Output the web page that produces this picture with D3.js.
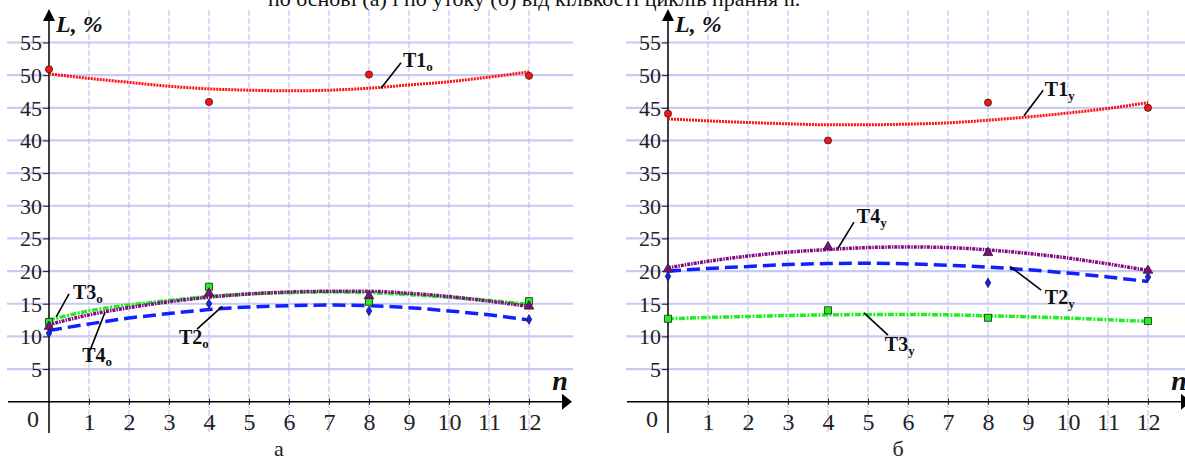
<!DOCTYPE html>
<html>
<head>
<meta charset="utf-8">
<script src="https://cdn.jsdelivr.net/npm/d3@7"></script>
<style>
  body { margin: 0; background: #fff; }
  svg { display: block; }
</style>
</head>
<body>
<svg id="chart" width="1185" height="463" font-family="Liberation Serif"></svg>
<script>
// data
const nCurve = [0, 1, 2, 3, 4, 5, 6, 7, 8, 9, 10, 11, 12];
const nPoints = [0, 4, 8, 12];
const xTicks = [1, 2, 3, 4, 5, 6, 7, 8, 9, 10, 11, 12];
const yTicks = [5, 10, 15, 20, 25, 30, 35, 40, 45, 50, 55];

// panel a (warp)
const t1oCurve = [50.2, 49.5, 48.9, 48.3, 47.9, 47.7, 47.6, 47.7, 48.0, 48.5, 49.0, 49.7, 50.5];
const t2oCurve = [10.9, 11.9, 12.8, 13.5, 14.1, 14.5, 14.7, 14.8, 14.7, 14.4, 13.9, 13.3, 12.5];
const t3oCurve = [12.5, 13.9, 14.8, 15.5, 16.1, 16.5, 16.7, 16.8, 16.7, 16.4, 16.0, 15.5, 14.9];
const t4oCurve = [11.8, 13.3, 14.4, 15.3, 16.0, 16.5, 16.8, 16.9, 16.9, 16.6, 16.1, 15.4, 14.6];
const t1oPoints = [50.9, 45.9, 50.1, 49.9];
const t2oPoints = [10.5, 15.0, 13.9, 12.6];
const t3oPoints = [12.2, 17.6, 15.3, 15.4];
const t4oPoints = [11.5, 16.6, 16.2, 14.6];

// panel б (weft)
const t1yCurve = [43.3, 43.0, 42.75, 42.55, 42.4, 42.4, 42.5, 42.7, 43.1, 43.6, 44.2, 44.9, 45.8];
const t2yCurve = [20.0, 20.4, 20.7, 21.0, 21.15, 21.2, 21.1, 20.9, 20.6, 20.2, 19.7, 19.1, 18.4];
const t3yCurve = [12.7, 12.9, 13.05, 13.2, 13.3, 13.35, 13.35, 13.3, 13.15, 13.0, 12.8, 12.55, 12.3];
const t4yCurve = [20.5, 21.5, 22.3, 22.9, 23.3, 23.6, 23.7, 23.6, 23.25, 22.7, 22.0, 21.1, 20.1];
const t1yPoints = [44.1, 40.0, 45.8, 45.0];
const t2yPoints = [19.2, null, 18.2, 19.1];
const t3yPoints = [12.7, 14.0, 12.85, 12.35];
const t4yPoints = [20.3, 23.7, 22.8, 20.1];

// series styles
const styles = {
  T1: { color: "#ff1010", dash: "2,1", width: 3, marker: "circle" },
  T2: { color: "#1020ff", dash: "13,6", width: 3.5, marker: "diamond" },
  T3: { color: "#22ee22", dash: "6,1.5,2,1.5", width: 3.5, marker: "square" },
  T4: { color: "#840a84", dash: "3,1,1.5,1", width: 3.5, marker: "triangle" }
};

const FONT = "Liberation Serif";
const svg = d3.select("#chart");

svg.append("text")
  .attr("x", 268)
  .attr("y", 6)
  .attr("font-family", FONT)
  .attr("font-size", 22)
  .attr("fill", "#111")
  .text("по основі (а) і по утоку (б) від кількості циклів прання n.");

const drawPanel = (ox, series, notes, caption) => {
  const g = svg.append("g");

  const x = d3.scaleLinear().domain([0, 12]).range([ox + 49, ox + 529]);
  const y = d3.scaleLinear().domain([0, 55]).range([401.7, 42.5]);
  const x0 = x(0), y0 = y(0);

  // grid
  g.append("g").selectAll("line")
    .data(yTicks)
    .join("line")
    .attr("x1", ox + 7).attr("x2", ox + 573)
    .attr("y1", d => y(d)).attr("y2", d => y(d))
    .attr("stroke", "#c9c9f6")
    .attr("stroke-width", 2.2);

  g.append("g").selectAll("line")
    .data(xTicks)
    .join("line")
    .attr("x1", d => x(d)).attr("x2", d => x(d))
    .attr("y1", 10).attr("y2", 433)
    .attr("stroke", "#b8b8f2")
    .attr("stroke-width", 1)
    .attr("stroke-dasharray", "6,2");

  // y axis
  const yAxis = g.append("g")
    .attr("transform", `translate(${x0},0)`)
    .call(d3.axisLeft(y).tickValues(yTicks).tickSize(6).tickPadding(1))
    .call(a => a.select(".domain").remove())
    .attr("font-family", FONT)
    .attr("font-size", 22);
  yAxis.selectAll("text")
    .attr("fill", "#222")
    .attr("dy", "0.34em");
  yAxis.selectAll("line").attr("stroke", "#222");

  // x axis
  const xAxis = g.append("g")
    .attr("transform", `translate(0,${y0 - 3})`)
    .call(d3.axisBottom(x).tickValues(xTicks).tickSize(6).tickPadding(0))
    .call(a => a.select(".domain").remove())
    .attr("font-family", FONT)
    .attr("font-size", 24);
  xAxis.selectAll("text")
    .attr("fill", "#222")
    .attr("y", 14)
    .attr("dy", "0.71em");
  xAxis.selectAll("line").attr("stroke", "#222");

  g.append("text")
    .attr("x", x0 - 16)
    .attr("y", 427)
    .attr("text-anchor", "middle")
    .attr("font-family", FONT)
    .attr("font-size", 24)
    .attr("fill", "#222")
    .text("0");

  // axis lines + arrows
  g.append("line")
    .attr("x1", x0).attr("x2", x0)
    .attr("y1", 433).attr("y2", 18)
    .attr("stroke", "#000").attr("stroke-width", 1.5);
  g.append("path")
    .attr("d", `M${x0 - 6},21 L${x0 + 6},21 L${x0},9 Z`)
    .attr("fill", "#000");

  g.append("line")
    .attr("x1", ox + 8).attr("x2", ox + 564)
    .attr("y1", y0).attr("y2", y0)
    .attr("stroke", "#000").attr("stroke-width", 1.5);
  g.append("path")
    .attr("d", `M${ox + 562},${y0 - 8} L${ox + 562},${y0 + 8} L${ox + 572},${y0} Z`)
    .attr("fill", "#000");

  g.append("text")
    .attr("x", x0 + 7)
    .attr("y", 32)
    .attr("font-family", FONT)
    .attr("font-size", 24)
    .attr("font-weight", "bold")
    .attr("font-style", "italic")
    .attr("fill", "#111")
    .text("L, %");

  g.append("text")
    .attr("x", ox + 560)
    .attr("y", 390)
    .attr("text-anchor", "middle")
    .attr("font-family", FONT)
    .attr("font-size", 28)
    .attr("font-weight", "bold")
    .attr("font-style", "italic")
    .attr("fill", "#111")
    .text("n");

  g.append("text")
    .attr("x", x(5.75))
    .attr("y", 456)
    .attr("text-anchor", "middle")
    .attr("font-family", FONT)
    .attr("font-size", 22)
    .attr("fill", "#222")
    .text(caption);

  // curves
  const line = d3.line()
    .x((d, i) => x(nCurve[i]))
    .y(d => y(d))
    .curve(d3.curveMonotoneX);

  series.forEach(s => {
    const st = styles[s.key];
    g.append("path")
      .datum(s.curve)
      .attr("d", line)
      .attr("fill", "none")
      .attr("stroke", st.color)
      .attr("stroke-width", st.width)
      .attr("stroke-dasharray", st.dash);
  });

  // markers
  series.forEach(s => {
    const st = styles[s.key];
    const pts = s.points.map((v, i) => ({ n: nPoints[i], v })).filter(d => d.v !== null);
    const sym = {
      circle: d3.symbol(d3.symbolCircle, 40),
      diamond: d3.symbol(d3.symbolDiamond, 26),
      square: d3.symbol(d3.symbolSquare, 50),
      triangle: d3.symbol(d3.symbolTriangle, 40)
    }[st.marker];
    g.append("g").selectAll("path")
      .data(pts)
      .join("path")
      .attr("transform", d => `translate(${x(d.n)},${y(d.v)})`)
      .attr("d", sym)
      .attr("fill", st.color)
      .attr("stroke", "#222")
      .attr("stroke-width", 0.8);
  });

  // labels with leader lines
  notes.forEach(nt => {
    g.append("line")
      .attr("x1", x(nt.from[0])).attr("y1", y(nt.from[1]))
      .attr("x2", x(nt.to[0])).attr("y2", y(nt.to[1]))
      .attr("stroke", "#000").attr("stroke-width", 1.6);
    const t = g.append("text")
      .attr("x", x(nt.at[0]))
      .attr("y", y(nt.at[1]))
      .attr("font-family", FONT)
      .attr("font-size", 20)
      .attr("font-weight", "bold")
      .attr("fill", "#111");
    t.append("tspan").text(nt.name);
    t.append("tspan").attr("font-size", 13).attr("dy", 4).text(nt.sub);
  });
};

drawPanel(0, [
  { key: "T1", curve: t1oCurve, points: t1oPoints },
  { key: "T2", curve: t2oCurve, points: t2oPoints },
  { key: "T3", curve: t3oCurve, points: t3oPoints },
  { key: "T4", curve: t4oCurve, points: t4oPoints }
], [
  { name: "T1", sub: "о", at: [8.85, 51.2], from: [8.8, 51.9], to: [8.3, 48.0] },
  { name: "T3", sub: "о", at: [0.6, 15.8], from: [0.5, 16.5], to: [0.18, 13.0] },
  { name: "T4", sub: "о", at: [0.83, 6.1], from: [1.03, 7.9], to: [1.4, 13.7] },
  { name: "T2", sub: "о", at: [3.25, 8.8], from: [3.7, 11.1], to: [4.33, 14.6] }
], "а");

drawPanel(619, [
  { key: "T1", curve: t1yCurve, points: t1yPoints },
  { key: "T3", curve: t3yCurve, points: t3yPoints },
  { key: "T2", curve: t2yCurve, points: t2yPoints },
  { key: "T4", curve: t4yCurve, points: t4yPoints }
], [
  { name: "T1", sub: "у", at: [9.42, 46.8], from: [9.38, 47.7], to: [8.9, 43.8] },
  { name: "T4", sub: "у", at: [4.72, 27.3], from: [4.65, 27.5], to: [4.25, 23.5] },
  { name: "T2", sub: "у", at: [9.42, 15.0], from: [9.33, 17.1], to: [8.55, 20.7] },
  { name: "T3", sub: "у", at: [5.42, 7.8], from: [5.5, 10.2], to: [4.9, 13.6] }
], "б");
</script>
</body>
</html>
